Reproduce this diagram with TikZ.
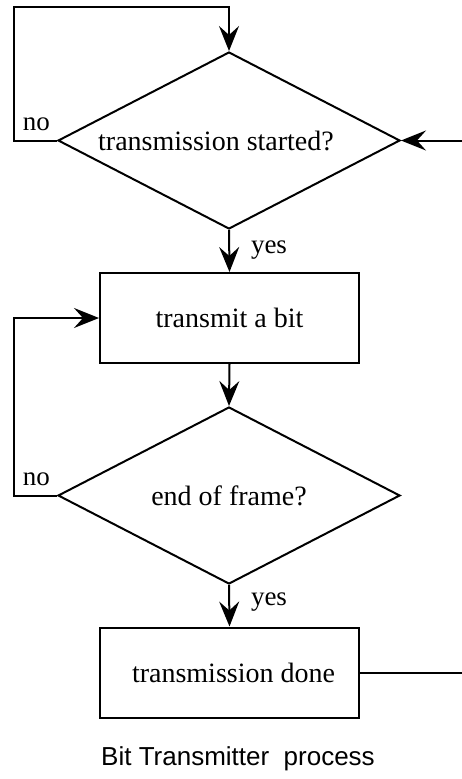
\documentclass[tikz,border=0pt]{standalone}
\usepackage{fontspec}
\setmainfont{Liberation Serif}
\newfontfamily\capfont{Liberation Sans}
\usetikzlibrary{arrows.meta,shapes.geometric}
\begin{document}
\begin{tikzpicture}[x=1pt,y=-1pt,
  line width=2pt,
  every node/.style={font=\fontsize{28}{30}\selectfont},
  arr/.style={-{Stealth[length=25pt,width=20pt,inset=9pt]}},
  decision/.style={shape=diamond,draw,minimum width=342pt,minimum height=177pt,inner sep=0pt,aspect=1.93},
  action/.style={shape=rectangle,draw,minimum width=259pt,minimum height=90pt,inner sep=0pt},
  lbl/.style={anchor=base west,inner sep=0pt,font=\fontsize{27}{29}\selectfont}]
\useasboundingbox (0,0) rectangle (462,779);
\fill[white] (0,0) rectangle (462,779);
\node[decision] (d1) at (229,140.5) {\hspace*{-26pt}transmission started?};
\node[action] (b1) at (229.5,318) {transmit a bit};
\node[decision] (d2) at (229,495.5) {end of frame?};
\node[action] (b2) at (229.5,672.5) {\hspace*{8pt}transmission done};
\coordinate (c1) at (14,7);
\coordinate (c2) at (14,318);
\coordinate (rin) at (462,140.5);
\coordinate (rout) at (462,672.5);
\draw[arr] (d1.west) -| (c1) -| (d1.north);
\draw[arr] (rin) -- (d1.east);
\draw[arr] (d1.south) -- (b1.north);
\draw[arr] (b1.south) -- (d2.north);
\draw[arr] (d2.west) -| (c2) -- (b1.west);
\draw[arr] (d2.south) -- (b2.north);
\draw (b2.east) -- (rout);
\node[lbl] (no1) at (22,130) {no};
\node[lbl] (yes1) at (250,253) {yes};
\node[lbl] (no2) at (22,485) {no};
\node[lbl] (yes2) at (250,605) {yes};
\node[anchor=base,inner sep=0pt,font=\capfont\fontsize{26}{28}\selectfont] (cap) at (238,765) {Bit Transmitter\ \ process};
\end{tikzpicture}
\end{document}
